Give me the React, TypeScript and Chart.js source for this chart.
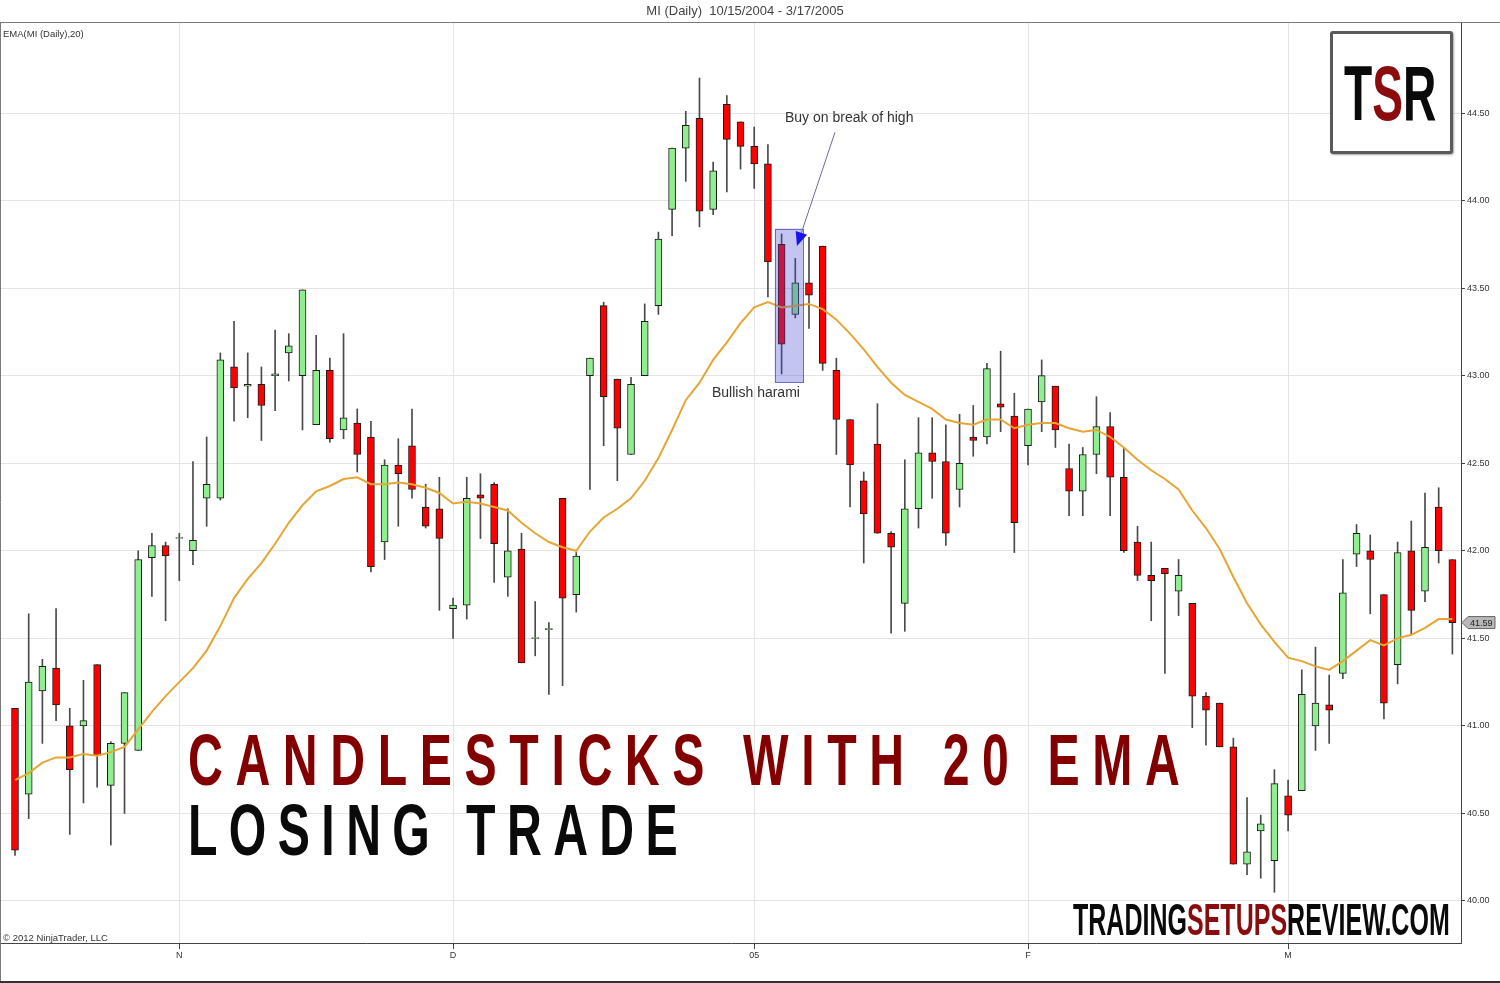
import React, { useEffect, useRef } from "react";
import { Chart, registerables } from "chart.js";

Chart.register(...registerables);

// ---- data (index = trading day) ----
const opens = [
  41.10, 40.61, 41.20, 41.33, 41.00, 41.00, 41.35, 40.66, 40.90, 40.86,
  41.96, 42.03, 42.07, 42.00, 42.30, 42.30, 43.05, 42.94, 42.95, 43.00,
  43.13, 43.00, 42.72, 43.03, 42.69, 42.73, 42.65, 42.05, 42.49, 42.60,
  42.25, 42.24, 41.67, 41.69, 42.32, 42.38, 41.85, 42.01, 41.50, 41.55,
  42.30, 41.75, 43.00, 43.40, 42.98, 42.55, 43.00, 43.40, 43.95, 44.30,
  44.47, 43.95, 44.55, 44.45, 44.31, 44.21, 43.75, 43.35, 43.53, 43.74,
  43.03, 42.75, 42.40, 42.61, 42.10, 41.70, 42.24, 42.56, 42.51, 42.35,
  42.65, 42.65, 42.84, 42.77, 42.60, 42.85, 42.94, 42.47, 42.34, 42.55,
  42.71, 42.42, 42.05, 41.86, 41.90, 41.77, 41.70, 41.17, 41.13, 40.88,
  40.21, 40.40, 40.23, 40.60, 40.63, 41.00, 41.12, 41.30, 41.98, 42.00,
  41.75, 41.35, 42.00, 41.77, 42.25, 41.95,
];
const highs = [
  41.10, 41.64, 41.38, 41.67, 41.10, 41.26, 41.35, 40.91, 41.19, 42.00,
  42.10, 42.05, 42.10, 42.51, 42.65, 43.13, 43.31, 43.13, 43.05, 43.26,
  43.24, 43.49, 43.23, 43.10, 43.24, 42.81, 42.74, 42.52, 42.64, 42.81,
  42.38, 42.42, 41.73, 42.42, 42.44, 42.39, 42.24, 42.10, 41.71, 41.59,
  42.30, 41.99, 43.10, 43.42, 42.98, 42.99, 43.41, 43.82, 44.30, 44.51,
  44.70, 44.22, 44.60, 44.45, 44.42, 44.32, 43.81, 43.67, 43.79, 43.74,
  43.10, 42.75, 42.45, 42.84, 42.11, 42.52, 42.76, 42.76, 42.72, 42.78,
  42.83, 43.07, 43.14, 42.90, 42.81, 43.09, 42.94, 42.61, 42.59, 42.88,
  42.79, 42.59, 42.14, 42.05, 41.90, 41.95, 41.70, 41.19, 41.13, 40.93,
  40.59, 40.49, 40.75, 40.69, 41.32, 41.45, 41.29, 41.95, 42.15, 42.09,
  41.75, 42.05, 42.17, 42.33, 42.36, 41.95,
];
const lows = [
  40.26, 40.47, 40.90, 41.03, 40.38, 40.56, 40.65, 40.32, 40.50, 40.86,
  41.74, 41.60, 41.83, 41.92, 42.14, 42.29, 42.74, 42.76, 42.63, 42.80,
  42.97, 42.69, 42.72, 42.62, 42.64, 42.45, 41.88, 41.95, 42.14, 42.30,
  42.13, 41.66, 41.50, 41.61, 42.07, 41.82, 41.74, 41.36, 41.40, 41.18,
  41.23, 41.65, 42.35, 42.60, 42.40, 42.55, 43.00, 43.35, 43.80, 44.11,
  43.85, 43.92, 44.05, 44.18, 44.07, 43.45, 43.01, 43.33, 43.27, 43.03,
  42.55, 42.25, 41.93, 42.10, 41.53, 41.54, 42.13, 42.30, 42.03, 42.25,
  42.54, 42.61, 42.68, 41.99, 42.49, 42.68, 42.59, 42.20, 42.20, 42.44,
  42.20, 41.99, 41.83, 41.60, 41.30, 41.63, 40.99, 40.89, 40.88, 40.21,
  40.15, 40.13, 40.05, 40.40, 40.63, 40.86, 40.90, 41.27, 41.91, 41.64,
  41.04, 41.24, 41.52, 41.71, 41.93, 41.41,
];
const closes = [
  40.29, 41.25, 41.34, 41.12, 40.75, 41.03, 40.83, 40.90, 41.19, 41.95,
  42.03, 41.97, 42.075, 42.06, 42.38, 43.09, 42.93, 42.95, 42.83, 43.01,
  43.17, 43.49, 43.03, 42.64, 42.76, 42.55, 41.91, 42.49, 42.44, 42.35,
  42.14, 42.07, 41.69, 42.30, 42.30, 42.04, 42.00, 41.36, 41.505, 41.555,
  41.73, 41.97, 43.10, 42.88, 42.70, 42.95, 43.31, 43.78, 44.30, 44.43,
  43.94, 44.17, 44.35, 44.31, 44.21, 43.65, 43.18, 43.53, 43.46, 43.07,
  42.75, 42.49, 42.21, 42.10, 42.02, 42.24, 42.56, 42.51, 42.10, 42.50,
  42.63, 43.04, 42.82, 42.16, 42.81, 43.00, 42.69, 42.34, 42.55, 42.71,
  42.42, 42.00, 41.86, 41.83, 41.87, 41.86, 41.17, 41.09, 40.88, 40.21,
  40.28, 40.44, 40.67, 40.49, 41.18, 41.13, 41.09, 41.76, 42.10, 41.95,
  41.13, 41.99, 41.66, 42.02, 42.00, 41.59,
];
const ema20 = [
  40.69, 40.73, 40.79, 40.82, 40.82, 40.84, 40.83, 40.85, 40.88, 40.98,
  41.08, 41.17, 41.25, 41.33, 41.43, 41.57, 41.73, 41.84, 41.93, 42.04,
  42.16, 42.26, 42.34, 42.37, 42.41, 42.42, 42.38, 42.38, 42.39, 42.38,
  42.36, 42.33, 42.27, 42.28, 42.27, 42.25, 42.23, 42.16, 42.10, 42.05,
  42.02, 42.00, 42.11, 42.19, 42.24, 42.30, 42.40, 42.53, 42.69, 42.86,
  42.96, 43.09, 43.19, 43.30, 43.39, 43.42, 43.39, 43.40, 43.41, 43.38,
  43.32, 43.24, 43.15, 43.05, 42.96, 42.89, 42.85, 42.81, 42.75, 42.73,
  42.72, 42.75, 42.75, 42.70, 42.72, 42.73, 42.73, 42.70, 42.68, 42.69,
  42.65, 42.59, 42.52, 42.46, 42.41, 42.35, 42.23, 42.13, 42.01, 41.85,
  41.70, 41.58, 41.48, 41.39, 41.37, 41.34, 41.32, 41.37, 41.43, 41.49,
  41.46, 41.50, 41.52, 41.56, 41.61, 41.61,
];
const monthTickIdx = [12, 32, 54, 74, 93];
const monthTickLabels = ["N", "D", "05", "F", "M"];
const priceTicks = [40.0, 40.5, 41.0, 41.5, 42.0, 42.5, 43.0, 43.5, 44.0, 44.5];
// harami highlight box (index range, price range) and arrow (index, price)
const haramiBox = { x0: 55.5, x1: 57.63, yLow: 42.96, yHigh: 43.84 };
const arrowFrom = { x: 59.9, y: 44.39 };
const arrowTo = { x: 57.12, y: 43.74 };

const UP = "#90ee90";
const DOWN = "#ff0000";

const annotPlugin = {
  id: "annot",
  afterDatasetsDraw(chart: any) {
    const { ctx, scales } = chart;
    const x = scales.x;
    const y = scales.y;
    ctx.save();
    const l = x.getPixelForValue(haramiBox.x0);
    const r = x.getPixelForValue(haramiBox.x1);
    const t = y.getPixelForValue(haramiBox.yHigh);
    const b = y.getPixelForValue(haramiBox.yLow);
    ctx.fillStyle = "rgba(70,70,210,0.32)";
    ctx.fillRect(l, t, r - l, b - t);
    ctx.strokeStyle = "rgba(90,90,190,0.85)";
    ctx.lineWidth = 1;
    ctx.strokeRect(Math.round(l) + 0.5, Math.round(t) + 0.5, Math.round(r - l) - 1, Math.round(b - t) - 1);

    const ax = x.getPixelForValue(arrowFrom.x);
    const ay = y.getPixelForValue(arrowFrom.y);
    const bx = x.getPixelForValue(arrowTo.x);
    const by = y.getPixelForValue(arrowTo.y);
    const ang = Math.atan2(by - ay, bx - ax);
    const len = 14;
    const half = 6;
    const baseX = bx - len * Math.cos(ang);
    const baseY = by - len * Math.sin(ang);
    ctx.strokeStyle = "#6a6aa8";
    ctx.beginPath();
    ctx.moveTo(ax, ay);
    ctx.lineTo(baseX, baseY);
    ctx.stroke();
    ctx.fillStyle = "#1414ee";
    ctx.beginPath();
    ctx.moveTo(bx, by);
    ctx.lineTo(baseX + half * Math.sin(ang), baseY - half * Math.cos(ang));
    ctx.lineTo(baseX - half * Math.sin(ang), baseY + half * Math.cos(ang));
    ctx.closePath();
    ctx.fill();
    ctx.restore();
  },
  afterDraw(chart: any) {
    const { ctx, chartArea, scales } = chart;
    const W = chart.width;
    const H = chart.height;
    ctx.save();
    ctx.strokeStyle = "#7a7a7a";
    ctx.lineWidth = 1;
    ctx.beginPath();
    ctx.moveTo(0, chartArea.top + 0.5);
    ctx.lineTo(W, chartArea.top + 0.5);
    ctx.moveTo(0.5, chartArea.top);
    ctx.lineTo(0.5, H);
    ctx.stroke();
    ctx.fillStyle = "#333";
    ctx.fillRect(0, H - 2, W, 2);
    const last = closes[closes.length - 1];
    const py = scales.y.getPixelForValue(last);
    const rx = chartArea.right + 1;
    ctx.beginPath();
    ctx.moveTo(rx, py);
    ctx.lineTo(rx + 6, py - 6);
    ctx.lineTo(rx + 33, py - 6);
    ctx.lineTo(rx + 33, py + 6);
    ctx.lineTo(rx + 6, py + 6);
    ctx.closePath();
    ctx.fillStyle = "#b8b8b8";
    ctx.fill();
    ctx.strokeStyle = "#666";
    ctx.stroke();
    ctx.fillStyle = "#222";
    ctx.font = "9px 'Liberation Sans', Arial, sans-serif";
    ctx.textBaseline = "middle";
    ctx.textAlign = "left";
    ctx.fillText(last.toFixed(2), rx + 8, py + 0.5);
    ctx.restore();
  },
};

export default function App() {
  const ref = useRef<HTMLCanvasElement | null>(null);

  useEffect(() => {
    if (!ref.current) return;
    const idx = closes.map((_, i) => i);
    const chart = new Chart(ref.current, {
      type: "bar",
      data: {
        datasets: [
          {
            type: "line",
            label: "EMA",
            data: idx.map((i) => ({ x: i, y: ema20[i] })),
            borderColor: "#e6a634",
            borderWidth: 2,
            pointRadius: 0,
            tension: 0,
            order: 1,
          } as any,
          {
            label: "body",
            data: idx.map((i) => ({ x: i, y: [opens[i], closes[i]] })),
            backgroundColor: idx.map((i) => (closes[i] >= opens[i] ? UP : DOWN)),
            borderColor: "#1a1a1a",
            borderWidth: 1,
            borderSkipped: false,
            barThickness: 7,
            grouped: false,
            order: 2,
          } as any,
          {
            label: "wick",
            data: idx.map((i) => ({ x: i, y: [lows[i], highs[i]] })),
            backgroundColor: "#4a4a4a",
            borderWidth: 0,
            barThickness: 1,
            grouped: false,
            order: 3,
          } as any,
        ],
      },
      options: {
        responsive: false,
        animation: false,
        layout: { padding: { top: 22, left: 1, right: 0, bottom: 0 } },
        plugins: { legend: { display: false }, tooltip: { enabled: false } },
        scales: {
          x: {
            type: "linear",
            min: -1.023,
            max: 105.63,
            offset: false,
            afterBuildTicks: (s: any) => {
              s.ticks = monthTickIdx.map((v) => ({ value: v }));
            },
            afterFit: (s: any) => {
              s.height = 40;
            },
            ticks: {
              autoSkip: false,
              maxRotation: 0,
              padding: 1,
              color: "#333",
              font: { size: 9, family: "'Liberation Sans', Arial, sans-serif" },
              callback: (v: any) => {
                const k = monthTickIdx.indexOf(Number(v));
                return k >= 0 ? monthTickLabels[k] : "";
              },
            },
            grid: {
              offset: false,
              color: "#e4e4e4",
              tickColor: "#444",
              tickLength: 6,
              drawTicks: true,
            },
            border: { display: true, color: "#444" },
          },
          y: {
            type: "linear",
            position: "right",
            min: 39.76,
            max: 45.02,
            afterBuildTicks: (s: any) => {
              s.ticks = priceTicks.map((v) => ({ value: v }));
            },
            afterFit: (s: any) => {
              s.width = 39;
            },
            ticks: {
              padding: 2,
              color: "#333",
              font: { size: 9, family: "'Liberation Sans', Arial, sans-serif" },
              callback: (v: any) => Number(v).toFixed(2),
            },
            grid: {
              color: "#e4e4e4",
              tickColor: "#444",
              tickLength: 4,
            },
            border: { display: true, color: "#444" },
          },
        },
      } as any,
      plugins: [annotPlugin],
    });
    return () => chart.destroy();
  }, []);

  const small = "'Liberation Sans', Arial, sans-serif";
  const heavy = "'Liberation Sans', Arial, sans-serif";

  return (
    <div style={{ position: "absolute", left: 0, top: 0, width: 1500, height: 983, background: "#fff", overflow: "hidden" }}>
      <canvas ref={ref} width={1500} height={983} style={{ position: "absolute", left: 0, top: 0, width: 1500, height: 983 }} />
      <div style={{ position: "absolute", left: 545, top: 4, width: 400, textAlign: "center", font: `13px/13px ${small}`, color: "#444", whiteSpace: "pre" }}>
        {"MI (Daily)  10/15/2004 - 3/17/2005"}
      </div>
      <div style={{ position: "absolute", left: 3, top: 29, font: `9.5px/10px ${small}`, color: "#333" }}>EMA(MI (Daily),20)</div>
      <div style={{ position: "absolute", left: 3, top: 933, font: `9.5px/10px ${small}`, color: "#333" }}>© 2012 NinjaTrader, LLC</div>
      <div style={{ position: "absolute", left: 785, top: 110, font: `14px/14px ${small}`, color: "#333" }}>Buy on break of high</div>
      <div style={{ position: "absolute", left: 712, top: 385, font: `14px/14px ${small}`, color: "#333" }}>Bullish harami</div>

      <div style={{ position: "absolute", left: 188, top: 724, font: `bold 72px/72px ${heavy}`, color: "#820000", letterSpacing: 18.8, whiteSpace: "pre", transform: "scaleX(0.67)", transformOrigin: "0 0" }}>
        CANDLESTICKS WITH 20 EMA
      </div>
      <div style={{ position: "absolute", left: 188, top: 794, font: `bold 72px/72px ${heavy}`, color: "#0a0a0a", letterSpacing: 17, whiteSpace: "pre", transform: "scaleX(0.67)", transformOrigin: "0 0" }}>
        LOSING TRADE
      </div>

      <div style={{ position: "absolute", left: 1073, top: 897, font: `bold 45px/45px ${heavy}`, color: "#0a0a0a", whiteSpace: "pre", transform: "scaleX(0.556)", transformOrigin: "0 0" }}>
        TRADING<span style={{ color: "#8a0c0c" }}>SETUPS</span>REVIEW.COM
      </div>

      <div style={{ position: "absolute", left: 1330, top: 31, width: 117, height: 117, border: "3px solid #5a5a5a", borderRadius: 3, background: "#fff", boxShadow: "1px 1px 2px rgba(0,0,0,0.35)" }} />
      <div style={{ position: "absolute", left: 1344, top: 55, font: `bold 77px/77px ${heavy}`, color: "#0a0a0a", whiteSpace: "pre", transform: "scaleX(0.6)", transformOrigin: "0 0" }}>
        T<span style={{ color: "#8a0c0c" }}>S</span>R
      </div>
    </div>
  );
}
